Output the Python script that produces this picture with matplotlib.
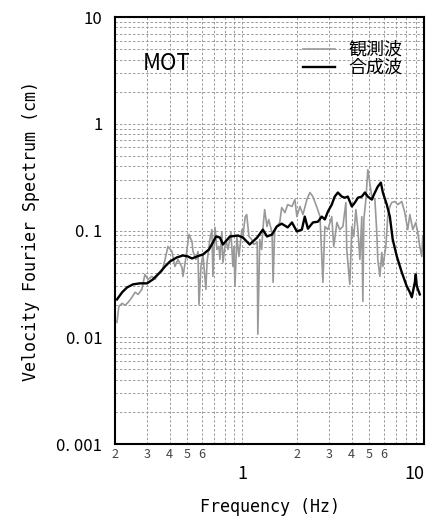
import numpy as np
import matplotlib
matplotlib.use("Agg")
import matplotlib.pyplot as plt
import matplotlib.transforms as mtransforms

plt.rcParams['font.family'] = ['Noto Sans CJK JP', 'DejaVu Sans']

# observed spectrum (grey)
obs_f = [0.205, 0.210, 0.219, 0.227, 0.236, 0.248, 0.258, 0.268, 0.281, 0.292,
         0.304, 0.319, 0.332, 0.345, 0.363, 0.377, 0.391, 0.411, 0.427, 0.444,
         0.467, 0.473, 0.491, 0.510, 0.530, 0.537, 0.557, 0.572, 0.579, 0.594,
         0.609, 0.632, 0.641, 0.665, 0.682, 0.691, 0.709, 0.727, 0.745, 0.755,
         0.774, 0.784, 0.815, 0.836, 0.868, 0.890, 0.902, 0.913, 0.936, 0.960,
         0.997, 1.01, 1.04, 1.06, 1.09, 1.13, 1.16, 1.21, 1.22, 1.25,
         1.28, 1.30, 1.33, 1.37, 1.40, 1.46, 1.48, 1.51, 1.55, 1.61,
         1.65, 1.72, 1.78, 1.88, 1.95, 2.00, 2.08, 2.16, 2.27, 2.36,
         2.45, 2.58, 2.68, 2.78, 2.85, 2.96, 3.11, 3.19, 3.32, 3.44,
         3.58, 3.72, 3.76, 3.91, 4.01, 4.11, 4.22, 4.33, 4.44, 4.55,
         4.61, 4.67, 4.79, 4.91, 5.03, 5.16, 5.37, 5.50, 5.57, 5.72,
         5.86, 5.94, 6.17, 6.32, 6.49, 6.65, 6.91, 7.18, 7.55, 7.84,
         8.14, 8.36, 8.68, 9.01, 9.24, 9.48, 9.72, 9.85]
obs_v = [0.0138, 0.0195, 0.0208, 0.0199, 0.0212, 0.0237, 0.0264, 0.0252, 0.0281, 0.0388,
         0.0348, 0.0372, 0.0348, 0.0388, 0.0414, 0.0536, 0.0709, 0.0636, 0.0461, 0.0536,
         0.0451, 0.0372, 0.0560, 0.0917, 0.0789, 0.0636, 0.0536, 0.0636, 0.0203, 0.0461,
         0.0597, 0.0281, 0.0502, 0.0824, 0.102, 0.0372, 0.107, 0.0664, 0.0709, 0.0536,
         0.0958, 0.0502, 0.0824, 0.0664, 0.0958, 0.0461, 0.0709, 0.0300, 0.0879, 0.0571,
         0.102, 0.0879, 0.135, 0.141, 0.0879, 0.0824, 0.0740, 0.0773, 0.0107, 0.0824,
         0.0664, 0.102, 0.157, 0.109, 0.127, 0.0958, 0.0327, 0.102, 0.109, 0.119,
         0.164, 0.147, 0.175, 0.168, 0.195, 0.135, 0.168, 0.141, 0.195, 0.227,
         0.208, 0.164, 0.135, 0.0327, 0.109, 0.102, 0.135, 0.0709, 0.119, 0.102,
         0.109, 0.183, 0.0664, 0.0313, 0.109, 0.0879, 0.157, 0.102, 0.0536, 0.135,
         0.0217, 0.127, 0.195, 0.372, 0.281, 0.208, 0.195, 0.0958, 0.0536, 0.0372,
         0.0623, 0.0461, 0.0709, 0.135, 0.168, 0.183, 0.187, 0.175, 0.187, 0.147,
         0.102, 0.141, 0.102, 0.119, 0.0958, 0.0709, 0.0571, 0.0879]

# synthetic spectrum (black)
syn_f = [0.205, 0.219, 0.233, 0.251, 0.274, 0.300, 0.323, 0.353, 0.377, 0.401,
         0.438, 0.473, 0.504, 0.530, 0.564, 0.609, 0.657, 0.691, 0.718, 0.755,
         0.784, 0.857, 0.948, 1.01, 1.10, 1.21, 1.30, 1.37, 1.46, 1.55,
         1.65, 1.78, 1.88, 2.00, 2.13, 2.21, 2.30, 2.45, 2.61, 2.74,
         2.85, 2.96, 3.11, 3.23, 3.36, 3.53, 3.67, 3.81, 4.01, 4.17,
         4.33, 4.55, 4.73, 4.91, 5.16, 5.37, 5.57, 5.79, 5.94, 6.24,
         6.49, 6.73, 7.09, 7.55, 8.04, 8.36, 8.57, 8.90, 9.01, 9.13, 9.48]
syn_v = [0.0226, 0.0264, 0.0293, 0.0313, 0.0320, 0.0320, 0.0348, 0.0405, 0.0461, 0.0513,
         0.0560, 0.0584, 0.0571, 0.0547, 0.0571, 0.0597, 0.0664, 0.0773, 0.0879, 0.086,
         0.074, 0.0879, 0.0898, 0.086, 0.074, 0.086, 0.102, 0.0879, 0.0917, 0.109,
         0.116, 0.107, 0.119, 0.098, 0.102, 0.135, 0.104, 0.119, 0.121, 0.135,
         0.127, 0.150, 0.175, 0.208, 0.227, 0.208, 0.203, 0.208, 0.168, 0.183,
         0.203, 0.208, 0.227, 0.208, 0.195, 0.227, 0.258, 0.281, 0.227, 0.175,
         0.135, 0.0824, 0.0571, 0.0405, 0.0300, 0.0264, 0.0237, 0.0327, 0.0388, 0.0300, 0.0252]

y_ticks = [0.001, 0.01, 0.1, 1, 10]
y_labels = ["0. 001", "0. 01", "0. 1", "1", "10"]
x_major = [1, 10]
x_minor = [0.2, 0.3, 0.4, 0.5, 0.6, 0.7, 0.8, 0.9, 2, 3, 4, 5, 6, 7, 8, 9]
x_minor_labels = ["2", "3", "4", "5", "6", "", "", "", "2", "3", "4", "5", "6", "", "", ""]

fig = plt.figure(figsize=(4.32, 5.16), dpi=100)
ax = fig.add_axes([0.2662, 0.1395, 0.7153, 0.8275])

ax.plot(obs_f, obs_v, color="#999999", lw=1.2, label="観測波")
ax.plot(syn_f, syn_v, color="black", lw=1.7, label="合成波")

ax.set_xscale("log")
ax.set_yscale("log")
ax.set_xlim(0.2, 10)
ax.set_ylim(0.001, 10)

ax.set_yticks(y_ticks)
ax.set_yticklabels(y_labels, fontsize=12)
ax.set_yticks([m * d for d in [0.001, 0.01, 0.1, 1] for m in range(2, 10)], minor=True)
ax.set_xticks(x_major)
ax.set_xticklabels(["1", "10"], fontsize=13)
ax.set_xticks(x_minor, minor=True)
ax.set_xticklabels(x_minor_labels, minor=True, fontsize=9, color="#444444")

# keep the "10" label inside the figure
lab10 = ax.get_xticklabels()[-1]
lab10.set_ha("right")
lab10.set_transform(lab10.get_transform() +
                    mtransforms.ScaledTranslation(7 / 100, 0, fig.dpi_scale_trans))

ax.tick_params(axis="both", which="both", length=0)
ax.tick_params(axis="y", which="major", pad=9)
ax.tick_params(axis="x", which="major", pad=15)
ax.tick_params(axis="x", which="minor", pad=3)

ax.grid(True, which="both", color="#999999", lw=0.7, linestyle=(0, (2.5, 2)))
ax.set_axisbelow(True)
for s in ax.spines.values():
    s.set_linewidth(1.5)

mono = ["DejaVu Sans Mono"]
ax.set_xlabel("Frequency (Hz)", fontsize=12, family=mono, labelpad=11)
ax.set_ylabel("Velocity Fourier Spectrum (cm)", fontsize=12, family=mono, labelpad=12)

ax.text(0.168, 0.892, "MOT", transform=ax.transAxes, fontsize=16,
        ha="center", va="center")
ax.legend(loc="upper right", bbox_to_anchor=(0.96, 0.965), frameon=False,
          fontsize=13, handlelength=1.8, handletextpad=0.75, labelspacing=0.0,
          borderpad=0)

fig.savefig("out.png", dpi=100)
